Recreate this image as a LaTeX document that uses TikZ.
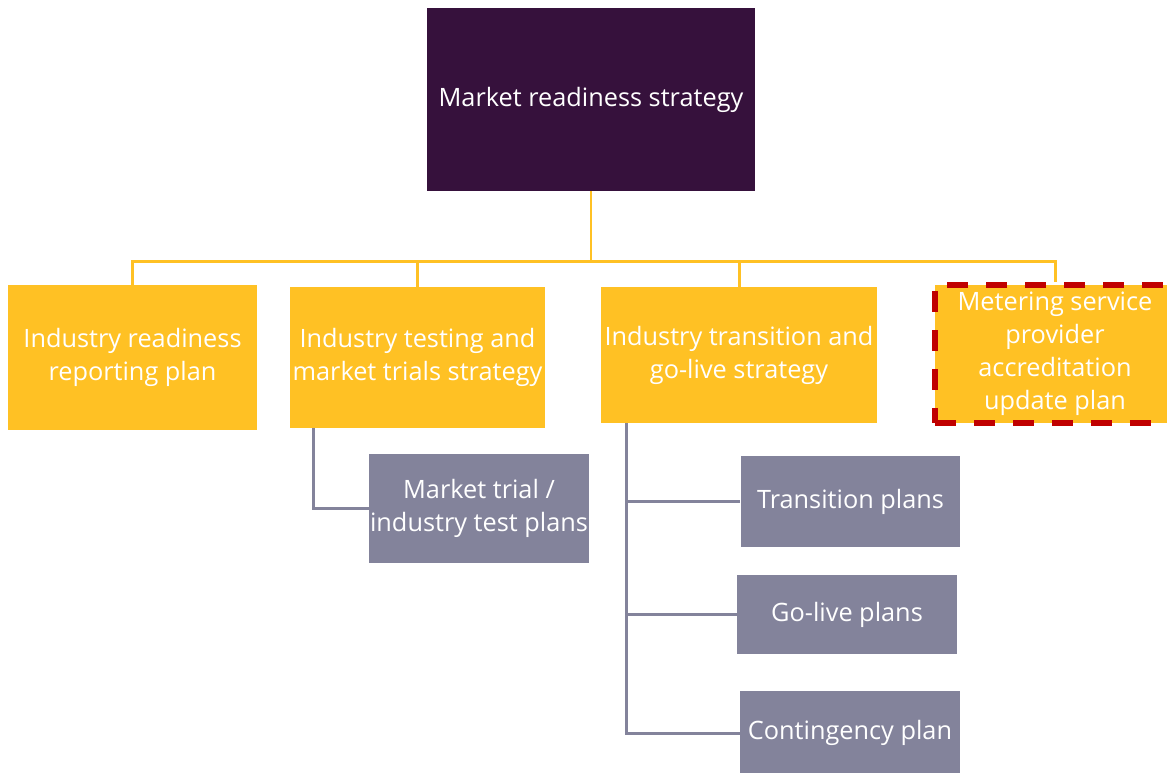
\documentclass[tikz,border=0pt]{standalone}
\usepackage{fontspec}
\setmainfont{Open Sans}
\usepackage{xcolor}
\usepackage{tikz}
\usetikzlibrary{positioning}

\definecolor{strategypurple}{HTML}{36113C}
\definecolor{planyellow}{HTML}{FFC124}
\definecolor{subgray}{HTML}{83839B}
\definecolor{flagred}{HTML}{C00000}

\begin{document}
\begin{tikzpicture}[x=0.02cm,y=-0.02cm,
  every node/.style={rectangle,inner sep=0pt,align=center,text=white,
    font=\fontsize{14.4}{18.8}\selectfont},
  topbox/.style={fill=strategypurple,minimum width=6.56cm,minimum height=3.66cm},
  planbox/.style={fill=planyellow},
  subbox/.style={fill=subgray,minimum width=4.4cm},
  yline/.style={draw=planyellow,line width=1.7pt},
  gline/.style={draw=subgray,line width=1.7pt}]
\useasboundingbox (0,0) rectangle (1167,772);
\node[topbox] (strategy) at (591,99.5) {Market readiness strategy};
\node[planbox,minimum width=4.98cm,minimum height=2.9cm] (readiness) at (132.5,357.5)
  {Industry readiness\\reporting plan};
\node[planbox,minimum width=5.1cm,minimum height=2.82cm] (testing) at (417.5,357.5)
  {Industry testing and\\market trials strategy};
\node[planbox,minimum width=5.52cm,minimum height=2.72cm] (transition) at (739,355)
  {Industry transition and\\go-live strategy};
\node[planbox,minimum width=4.8cm,minimum height=2.76cm,draw=flagred,line width=3.2pt,
  dash pattern=on 0.42cm off 0.36cm] (metering) at (1055,354)
  {Metering service\\provider\\accreditation\\update plan};
% sub plans
\node[subbox,minimum height=2.18cm] (trials) at (479,508.5)
  {Market trial /\\industry test plans};
\node[subbox,minimum height=1.82cm] (transplans) at (850.5,501.5) {Transition plans};
\node[subbox,minimum height=1.58cm] (golive) at (847,614.5) {Go-live plans};
\node[subbox,minimum height=1.68cm] (contingency) at (850,733) {Contingency plan};
% yellow tree
\coordinate (bus) at (591,261);
\draw[yline] (strategy.south) -- (bus);
\foreach \child in {readiness,testing,transition,metering}
  \draw[yline] (bus) -| (\child.north);
% gray branches
\draw[gline] ([xshift=0.48cm]testing.south west) |- (trials.west);
\draw[gline] ([xshift=0.52cm]transition.south west) coordinate (trunk) |- (contingency.west);
\draw[gline] (transplans.west) -- (transplans.west -| trunk);
\draw[gline] (golive.west) -- (golive.west -| trunk);
\end{tikzpicture}
\end{document}
